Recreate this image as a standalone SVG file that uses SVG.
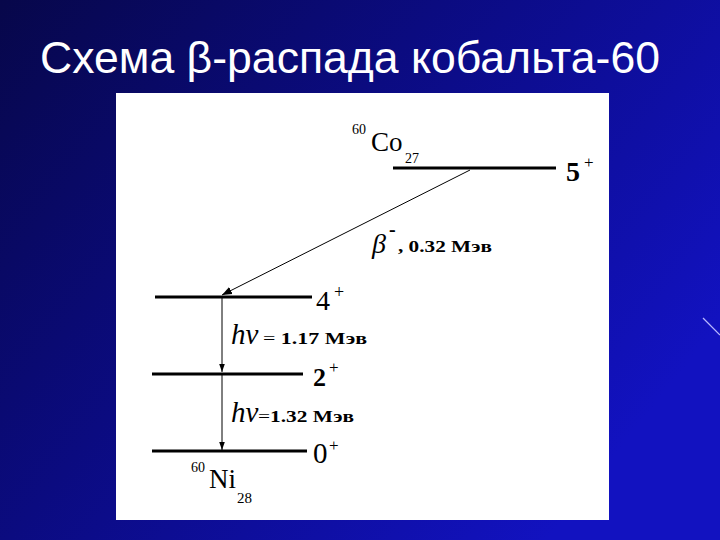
<svg xmlns="http://www.w3.org/2000/svg" width="720" height="540" viewBox="0 0 720 540">
<defs>
<linearGradient id="bg" x1="0" y1="0" x2="1" y2="0.6">
<stop offset="0" stop-color="#07074a"/>
<stop offset="0.45" stop-color="#0b0b80"/>
<stop offset="1" stop-color="#1212c0"/>
</linearGradient>
<marker id="ah" viewBox="0 0 10 10" refX="10" refY="5" markerWidth="10" markerHeight="10" orient="auto" markerUnits="userSpaceOnUse">
<path d="M0,1 L10,5 L0,9 Z" fill="#000"/>
</marker>
<marker id="ahs" viewBox="0 0 10 10" refX="10" refY="5" markerWidth="8" markerHeight="8" orient="auto" markerUnits="userSpaceOnUse">
<path d="M0,1.5 L10,5 L0,8.5 Z" fill="#000"/>
</marker>
<style>
.lvl{stroke:#000;stroke-width:3}
.con{stroke:#000;stroke-width:1;fill:none}
</style>
</defs>
<rect width="720" height="540" fill="url(#bg)"/>
<line x1="703" y1="318" x2="720" y2="335" stroke="#b8b8ff" stroke-width="1.2"/>
<text x="40" y="73" font-family="'Liberation Sans', Arial, sans-serif" font-size="45" fill="#fff" textLength="620" lengthAdjust="spacingAndGlyphs">Схема β-распада кобальта-60</text>
<rect x="116" y="93" width="493" height="427" fill="#fff"/>

<g font-family="'Liberation Serif', 'Times New Roman', serif" fill="#000">
<g id="co60"><line class="lvl" x1="393" y1="168" x2="556" y2="168"/>
<text x="352" y="134" font-size="14">60</text>
<text x="371" y="151" font-size="27">Co</text>
<text x="405" y="163" font-size="14">27</text>
<text x="566" y="181" font-size="28" font-weight="bold">5</text>
<text x="584" y="168" font-size="17">+</text></g>
<g id="lvl4"><line class="lvl" x1="155" y1="297" x2="312" y2="297"/>
<text x="316" y="310" font-size="28">4</text>
<text x="334" y="298" font-size="18">+</text></g>
<g id="lvl2"><line class="lvl" x1="152" y1="374" x2="303" y2="374"/>
<text x="313" y="386" font-size="26" font-weight="bold">2</text>
<text x="329" y="373" font-size="17">+</text></g>
<g id="lvl0"><line class="lvl" x1="152" y1="451" x2="307" y2="451"/>
<text x="313" y="463" font-size="29">0</text>
<text x="329" y="451" font-size="17">+</text>
<text x="191" y="472" font-size="14">60</text>
<text x="209" y="488" font-size="27">Ni</text>
<text x="237" y="503" font-size="15">28</text></g>

<g id="labels">
<text x="372" y="253" font-size="28" font-style="italic">β</text>
<text x="389" y="236" font-size="20" font-weight="bold">-</text>
<text x="398" y="252" font-size="17" font-weight="bold" textLength="94" lengthAdjust="spacingAndGlyphs">, 0.32 Мэв</text>
<text x="231" y="344" font-size="29" font-style="italic">hν</text>
<text x="263" y="344" font-size="16" font-weight="bold" textLength="104" lengthAdjust="spacingAndGlyphs"><tspan font-weight="normal">=</tspan> 1.17 Мэв</text>
<text x="231" y="422" font-size="29" font-style="italic">hν</text>
<text x="258" y="422" font-size="16" font-weight="bold" textLength="96" lengthAdjust="spacingAndGlyphs"><tspan font-weight="normal">=</tspan>1.32 Мэв</text>
</g>
</g>

<g id="connectors">
<line class="con" x1="470" y1="170" x2="222" y2="295" marker-end="url(#ah)"/>
<line class="con" x1="222" y1="298" x2="222" y2="372" marker-end="url(#ahs)"/>
<line class="con" x1="222" y1="375" x2="222" y2="450" marker-end="url(#ahs)"/>
</g>
</svg>
